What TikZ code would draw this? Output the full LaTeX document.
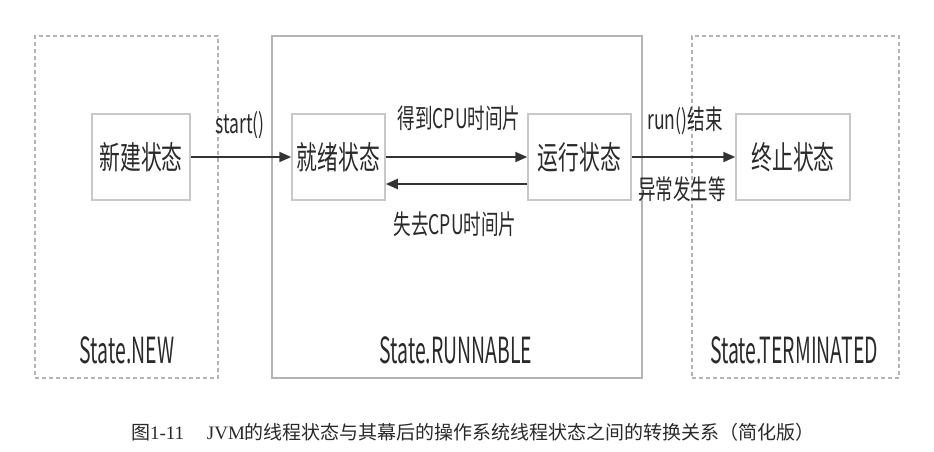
\documentclass[tikz,border=0pt]{standalone}
\usepackage{fontspec}
\usetikzlibrary{arrows.meta}
\newfontfamily\cjkbox[FakeStretch=0.65]{Noto Sans CJK SC}
\newfontfamily\cjkstate[FakeStretch=0.54]{Noto Sans CJK SC}
\newfontfamily\cjkcap{Noto Sans CJK SC}
\newfontfamily\capserif{Liberation Serif}
\definecolor{txt}{HTML}{2A2A2A}
\definecolor{boxline}{HTML}{C8C8C8}
\definecolor{grpline}{HTML}{B4B4B4}
\definecolor{arrowc}{HTML}{333333}
\tikzset{
  grp/.style={draw=grpline, line width=1.2pt, minimum width=#1, minimum height=342pt, inner sep=0pt},
  grpdash/.style={dash pattern=on 4pt off 3pt},
  statebox/.style={draw=boxline, line width=1.5pt, minimum height=86pt, minimum width=#1, inner sep=0pt, text=txt, font=\cjkbox\fontsize{32}{36}\selectfont},
  lbl/.style={text=txt, inner sep=0pt, font=\cjkbox\fontsize{27}{30}\selectfont},
  grplbl/.style={text=txt, inner sep=0pt, font=\cjkstate\fontsize{36}{40}\selectfont},
  conn/.style={draw=arrowc, line width=2pt, -{Triangle[length=12pt, width=10pt]}}
}
\begin{document}
\begin{tikzpicture}[x=1pt, y=-1pt]
\useasboundingbox[fill=white] (0,0) rectangle (934,452);
% groups
\node[grp=183pt, grpdash] (gnew) at (126.5,207) {};
\node[grp=370pt] (grun) at (457,207) {};
\node[grp=207pt, grpdash] (gterm) at (795.5,207) {};
% states
\node[statebox=98pt] (new) at (141,157) {新建状态};
\node[statebox=93pt] (ready) at (338.5,157) {就绪状态};
\node[statebox=103pt] (run) at (579.5,157) {运行状态};
\node[statebox=114pt] (term) at (793,157) {终止状态};
% connectors
\draw[conn] (new.east) -- (ready.west);
\draw[conn] (ready.east) -- (run.west);
\draw[conn] ([yshift=-27pt]run.west) -- ([yshift=-27pt]ready.east);
\draw[conn] (run.east) -- (term.west);
% labels
\node[lbl] (lstart) at (240,125) {start()};
\node[lbl] (lget) at (459,118) {得到CPU时间片};
\node[lbl] (llose) at (455,224) {失去CPU时间片};
\node[lbl] (lrun) at (685,121) {run()结束};
\node[lbl] (lexc) at (682,189) {异常发生等};
% group labels
\node[grplbl] (tnew) at (127,350) {State.NEW};
\node[grplbl] (trun) at (456,350) {State.RUNNABLE};
\node[grplbl] (tterm) at (794,350) {State.TERMINATED};
% caption
\node[text=txt, inner sep=0pt, font=\cjkcap\fontsize{19}{22}\selectfont] (cap) at (473,432)
  {图{\capserif 1-11}\hspace{1.2em}{\capserif JVM}的线程状态与其幕后的操作系统线程状态之间的转换关系（简化版）};
\end{tikzpicture}
\end{document}
